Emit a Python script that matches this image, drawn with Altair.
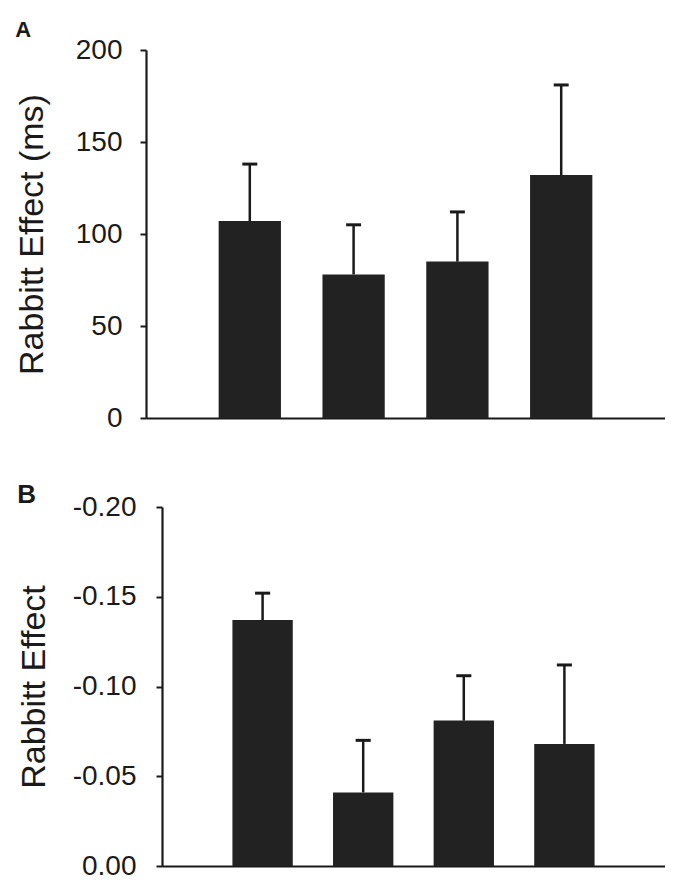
import altair as alt
import pandas as pd

# ---- data ----
positions = [1, 2, 3, 4]
a_means = [107, 78, 85, 132]
a_upper = [138, 105, 112, 181]
b_means = [-0.137, -0.041, -0.081, -0.068]
b_upper = [-0.152, -0.070, -0.106, -0.112]
a_ticks = [0, 50, 100, 150, 200]
b_ticks = [-0.20, -0.15, -0.10, -0.05, 0.00]

FONT = "Liberation Sans"
INK = "#1a1a1a"
BAR = "#222222"


def panel(letter, letter_size, letter_dy, means, uppers, ydomain, ticks,
          ytitle, w, h, xrange, yoffset, label_expr, label_pad, title_pad,
          reverse, cap_half):
    df = pd.DataFrame({"pos": positions, "mean": means, "upper": uppers})
    xs = alt.Scale(domain=[0, 5], range=xrange, nice=False, zero=False)
    xax = alt.Axis(title=None, labels=False, ticks=False, grid=False,
                   domainColor=INK, domainWidth=2.2)
    ys = alt.Scale(domain=ydomain, nice=False, zero=False, reverse=reverse)
    yax = alt.Axis(title=ytitle, values=ticks, grid=False, offset=yoffset,
                   labelExpr=label_expr, labelFont=FONT, labelFontSize=28,
                   labelColor=INK, labelPadding=label_pad,
                   tickSize=6, tickWidth=2, tickColor=INK,
                   domainColor=INK, domainWidth=2.2,
                   titleFont=FONT, titleFontSize=34, titleFontWeight="normal",
                   titleColor=INK, titlePadding=title_pad)
    base = alt.Chart(df).transform_calculate(
        x0="datum.pos - 0.3", x1="datum.pos + 0.3",
        c0=f"datum.pos - {cap_half}", c1=f"datum.pos + {cap_half}", zero="0")
    bars = base.mark_bar(color=BAR).encode(
        x=alt.X("x0:Q", scale=xs, axis=xax), x2="x1:Q",
        y=alt.Y("mean:Q", scale=ys, axis=yax), y2="zero:Q")
    err = base.mark_rule(color=INK, strokeWidth=2.5).encode(
        x=alt.X("pos:Q", scale=xs, axis=xax),
        y=alt.Y("mean:Q", scale=ys, axis=yax), y2="upper:Q")
    cap = base.mark_rule(color=INK, strokeWidth=3).encode(
        x=alt.X("c0:Q", scale=xs, axis=xax), x2="c1:Q",
        y=alt.Y("upper:Q", scale=ys, axis=yax))
    return alt.layer(bars, err, cap).properties(
        width=w, height=h,
        title=alt.TitleParams(letter, anchor="start", frame="bounds",
                              font=FONT, fontSize=letter_size,
                              fontWeight="bold", baseline="alphabetic",
                              color=INK, dy=letter_dy))


a = panel("A", 22, 27, a_means, a_upper, [0, 200], a_ticks,
          "Rabbitt Effect (ms)", 519, 368, [0, 519], 0,
          "datum.label", 18, 26, False, 0.072)
b = panel("B", 26, 40, b_means, b_upper, [-0.2, 0], b_ticks,
          "Rabbitt Effect", 519, 359, [16, 519], -16,
          "replace(format(datum.value, '.2f'), '\u2212', '-')",
          20, 21, True, 0.075)

chart = alt.vconcat(a, b, spacing=50).properties(
    background="white",
    padding={"left": 7, "top": 11, "right": 0, "bottom": 0},
).configure_view(stroke=None)

chart.save("out.html", embed_options={"renderer": "svg", "actions": False})
